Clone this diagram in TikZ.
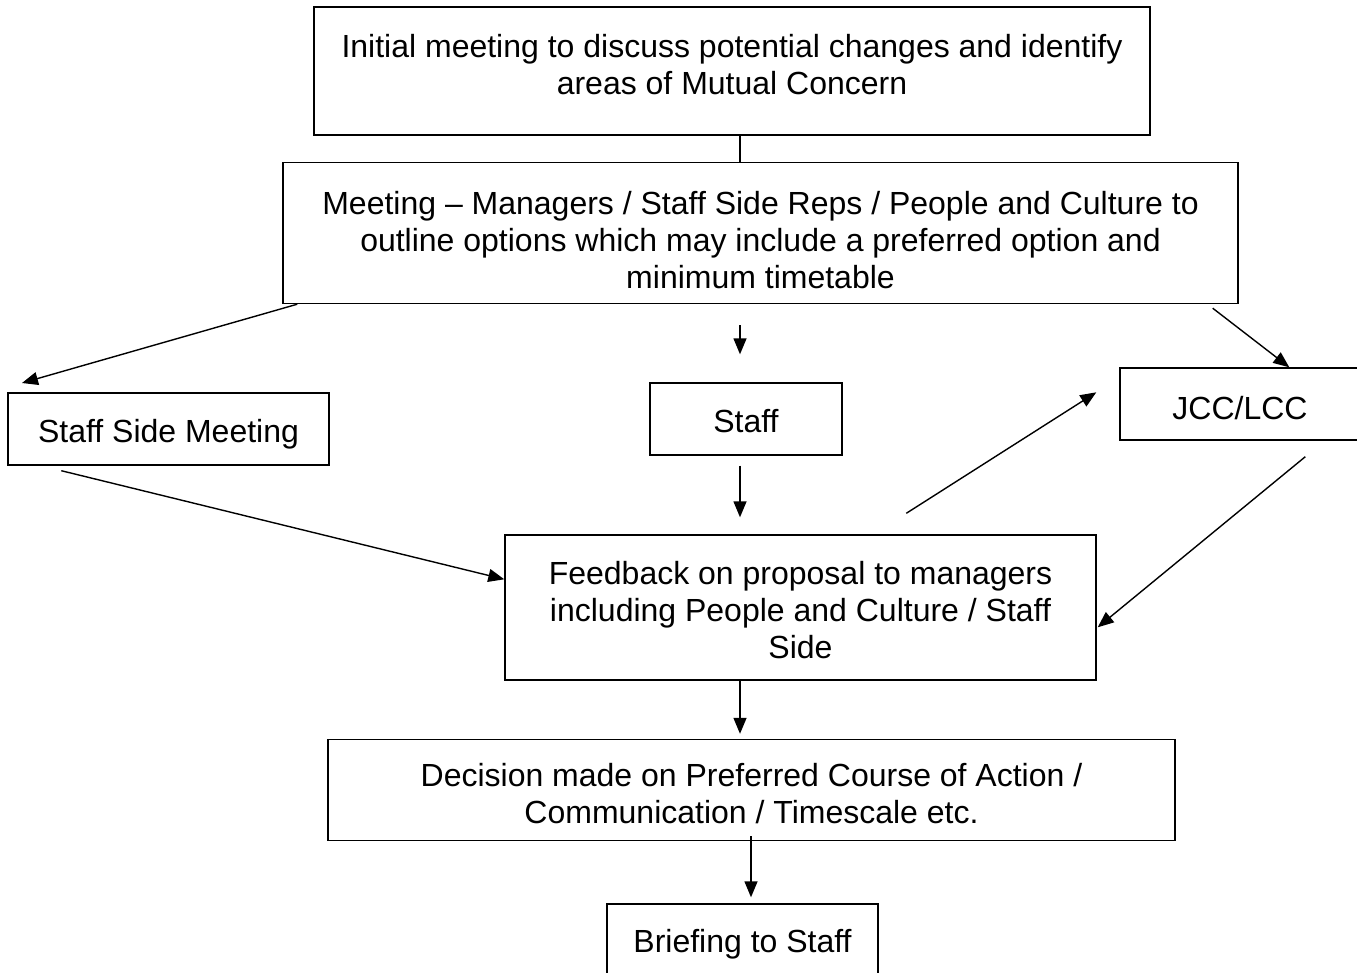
\documentclass[tikz,border=0pt]{standalone}
\usepackage{fontspec}
\setmainfont{Liberation Sans}
\usetikzlibrary{arrows.meta,positioning,calc}
\tikzset{>={Triangle[length=16pt,width=13pt]}}

\begin{document}
\begin{tikzpicture}[x=1pt, y=-1pt, line width=1.4pt,
		box/.style={draw, rectangle, inner sep=0pt},
		txt/.style={align=center, inner sep=0pt, font=\fontsize{32}{37}\selectfont}]
	\useasboundingbox (0,0) rectangle (1357,972);

	% Boxes, text sits in a centre label
	\node[box, minimum width=836, minimum height=128,
		label={[txt, yshift=6]center:{Initial meeting to discuss potential changes and identify\\areas of Mutual Concern}}] (init) at (732,71) {};
	\node[box, minimum width=955, minimum height=141,
		label={[txt, yshift=-7]center:{Meeting -- Managers / Staff Side Reps / People and Culture to\\outline options which may include a preferred option and\\minimum timetable}}] (meet) at (760.5,233) {};
	\node[box, minimum width=321, minimum height=72,
		label={[txt, yshift=-5]center:Staff Side Meeting}] (ssm) at (168.5,429) {};
	\node[box, minimum width=192, minimum height=72,
		label={[txt, yshift=-2]center:Staff}] (staff) at (746,419) {};
	\node[box, minimum width=240, minimum height=72,
		label={[txt, yshift=-4]center:JCC/LCC}] (jcc) at (1240,404) {};
	\node[box, minimum width=591, minimum height=145,
		label={[txt, yshift=-3]center:{Feedback on proposal to managers\\including People and Culture / Staff\\Side}}] (fb) at (800.5,607.5) {};
	\node[box, minimum width=847, minimum height=101,
		label={[txt, yshift=-4]center:{Decision made on Preferred Course of Action /\\Communication / Timescale etc.}}] (dec) at (751.5,790) {};
	\node[box, minimum width=271, minimum height=74,
		label={[txt, yshift=-3]center:Briefing to Staff}] (brief) at (742.5,941) {};

	% Column of the centre arrows
	\coordinate (mid) at (740,0);
	\coordinate (ssmin) at (22,383);

	% Connectors
	\draw (init.south -| mid) -- (meet.north -| mid);
	\draw[->] ($(meet.south west)+(15,0)$) -- (ssmin);
	\draw[->] ($(meet.south -| mid)+(0,21)$) -- ($(staff.north -| mid)+(0,-28)$);
	\draw[->] ($(meet.south east)+(-26,4)$) -- ($(jcc.north west)+(170,0)$);
	\draw[->] ($(staff.south -| mid)+(0,10)$) -- ($(fb.north -| mid)+(0,-17)$);
	\draw[->] ($(ssm.south west)+(54,5)$) -- ($(fb.north west)+(0,45)$);
	\draw[->] ($(fb.north west)+(402,-21)$) -- ($(jcc.north west)+(-23,25)$);
	\draw[->] ($(jcc.south west)+(186,16)$) -- ($(fb.north east)+(1,93)$);
	\draw[->] (fb.south -| mid) -- ($(dec.north -| mid)+(0,-5)$);
	\draw[->] ($(dec.south)+(-0.5,-5)$) -- ($(brief.north -| dec.south)+(-0.5,-6)$);
\end{tikzpicture}
\end{document}
